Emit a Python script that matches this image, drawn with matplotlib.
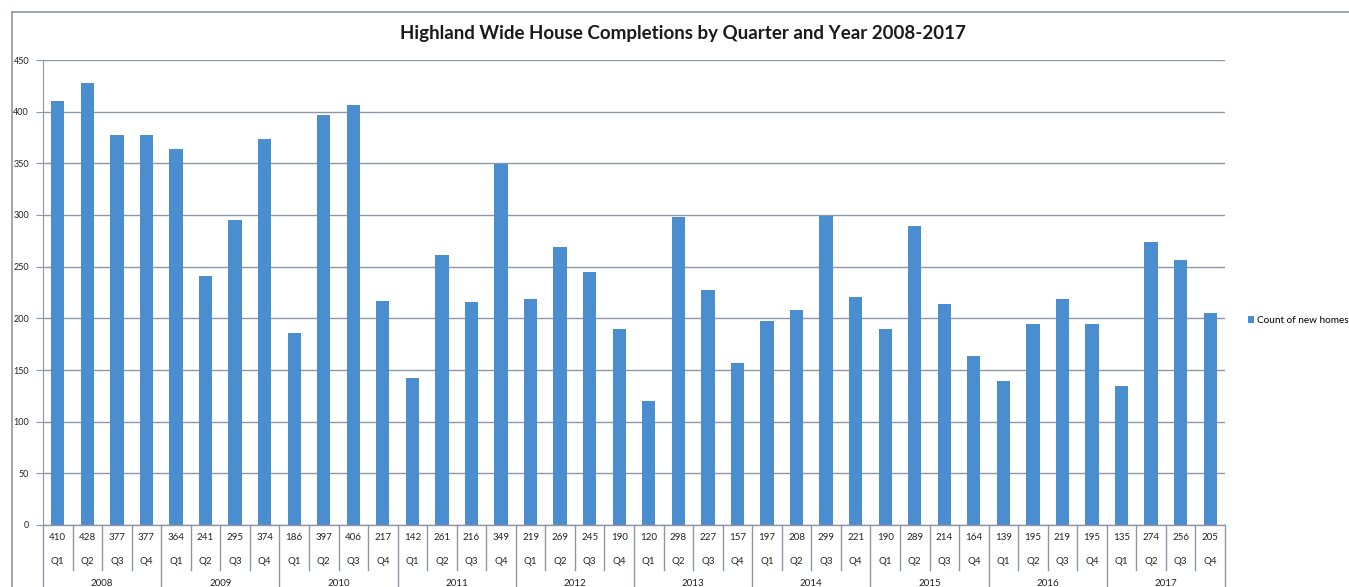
import matplotlib.pyplot as plt
import numpy as np
from matplotlib.lines import Line2D

plt.rcParams['font.family'] = ['Lato', 'DejaVu Sans']

years = ["2008", "2009", "2010", "2011", "2012", "2013", "2014", "2015", "2016", "2017"]
quarters = ["Q1", "Q2", "Q3", "Q4"]
completions = [
    410, 428, 377, 377,
    364, 241, 295, 374,
    186, 397, 406, 217,
    142, 261, 216, 349,
    219, 269, 245, 190,
    120, 298, 227, 157,
    197, 208, 299, 221,
    190, 289, 214, 164,
    139, 195, 219, 195,
    135, 274, 256, 205,
]

W, H = 1349, 587
fig = plt.figure(figsize=(W / 100, H / 100), dpi=100, facecolor="white")
left, right, top, zero = 43, 1225, 60, 525
ax = fig.add_axes([left / W, (H - zero) / H, (right - left) / W, (zero - top) / H])

grid_c = "#8d97a5"
bar_c = "#4a8ecf"
txt_c = "#222222"

x = np.arange(len(completions))
ax.bar(x, completions, width=0.45, color=bar_c, label="Count of new homes", zorder=3)
ax.set_xlim(-0.5, len(completions) - 0.5)
ax.set_ylim(0, 450)
ax.set_yticks(np.arange(0, 451, 50))
ax.yaxis.grid(True, color=grid_c, linewidth=1.0, zorder=0)
ax.set_xticks([])
for s in ["top", "right", "bottom"]:
    ax.spines[s].set_visible(False)
ax.spines["left"].set_color(grid_c)
ax.tick_params(axis="y", length=5, color=grid_c, labelsize=6.5, labelcolor=txt_c, pad=5)

fig.text(683 / W, 1 - 33 / H, "Highland Wide House Completions by Quarter and Year 2008-2017",
         fontsize=13.5, fontweight="bold", color="#1a1a1a", ha="center", va="center")

# data table below the axis
ph = zero - top
trans = ax.get_xaxis_transform()
for i, v in enumerate(completions):
    ax.text(i, -13 / ph, str(v), transform=trans, ha="center", va="center",
            fontsize=7, color=txt_c, clip_on=False)
    ax.text(i, -37 / ph, quarters[i % 4], transform=trans, ha="center", va="center",
            fontsize=7, color=txt_c, clip_on=False)
for j, yr in enumerate(years):
    ax.text(4 * j + 1.5, -58 / ph, yr, transform=trans, ha="center", va="center",
            fontsize=7, color=txt_c, clip_on=False)
for i in range(len(completions) + 1):
    bottom = -45 / ph if i % 4 else -70 / ph
    ax.add_line(Line2D([i - 0.5, i - 0.5], [0, bottom], transform=trans,
                       color=grid_c, linewidth=1.0, clip_on=False))
ax.add_line(Line2D([-0.5, len(completions) - 0.5], [0, 0], transform=trans,
                   color=grid_c, linewidth=1.0, clip_on=False, zorder=4))

ax.legend(loc="center left", bbox_to_anchor=(1.012, 0.44), frameon=False,
          fontsize=7.2, handlelength=0.6, handleheight=0.6, handletextpad=0.3)

# outer chart frame
fig.add_artist(Line2D([12 / W, 1.0], [1 - 12 / H, 1 - 12 / H], color=grid_c, linewidth=1.2))
fig.add_artist(Line2D([12 / W, 12 / W], [0, 1 - 12 / H], color=grid_c, linewidth=1.2))

fig.savefig("out.png", dpi=100, facecolor="white")
